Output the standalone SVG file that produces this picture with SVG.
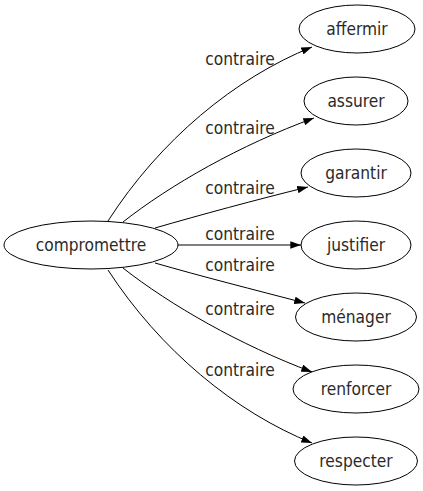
<svg xmlns="http://www.w3.org/2000/svg" width="423" height="491" viewBox="0 0 423 491">
<defs>
<style>
text{font-family:"DejaVu Sans Condensed","DejaVu Sans",sans-serif;font-size:17.2px;fill:#2a2a2a;text-anchor:middle}
.n ellipse{fill:none;stroke:#000;stroke-width:1}
.e path{fill:none;stroke:#000;stroke-width:1;marker-end:url(#ah)}
</style>
<marker id="ah" markerUnits="userSpaceOnUse" viewBox="0 0 10 7" refX="10" refY="3.5" markerWidth="11" markerHeight="7.5" orient="auto">
<path d="M0,0 L10,3.5 L0,7 z" fill="#000"/>
</marker>
</defs>
<rect width="423" height="491" fill="#fff"/>
<g id="edges" class="e">
<path d="M108,221 C160,140 235,78 312,47"/>
<path d="M123,222 C170,185 240,145 314,118"/>
<path d="M155,228 C200,215 255,200 308,187"/>
<path d="M178,245 L301,245"/>
<path d="M155,263 C200,276 255,290 305,303"/>
<path d="M123,268 C170,305 240,345 312,372"/>
<path d="M108,270 C160,350 235,412 312,443"/>
<text x="240" y="65">contraire</text>
<text x="240" y="134">contraire</text>
<text x="240" y="194">contraire</text>
<text x="240" y="240">contraire</text>
<text x="240" y="271">contraire</text>
<text x="240" y="315">contraire</text>
<text x="240" y="376">contraire</text>
</g>
<g id="compromettre" class="n"><ellipse cx="91" cy="245" rx="87" ry="24"/><text x="91" y="251">compromettre</text></g>
<g id="affermir" class="n"><ellipse cx="357" cy="29" rx="58" ry="24"/><text x="357" y="35">affermir</text></g>
<g id="assurer" class="n"><ellipse cx="356" cy="101" rx="52" ry="24"/><text x="356" y="107">assurer</text></g>
<g id="garantir" class="n"><ellipse cx="356" cy="173" rx="55" ry="24"/><text x="356" y="179">garantir</text></g>
<g id="justifier" class="n"><ellipse cx="356" cy="245" rx="55" ry="24"/><text x="356" y="251">justifier</text></g>
<g id="menager" class="n"><ellipse cx="356" cy="317" rx="60.5" ry="24"/><text x="356" y="323">ménager</text></g>
<g id="renforcer" class="n"><ellipse cx="356" cy="389" rx="63" ry="24"/><text x="356" y="395">renforcer</text></g>
<g id="respecter" class="n"><ellipse cx="356" cy="461" rx="61.5" ry="24"/><text x="356" y="467">respecter</text></g>
</svg>
